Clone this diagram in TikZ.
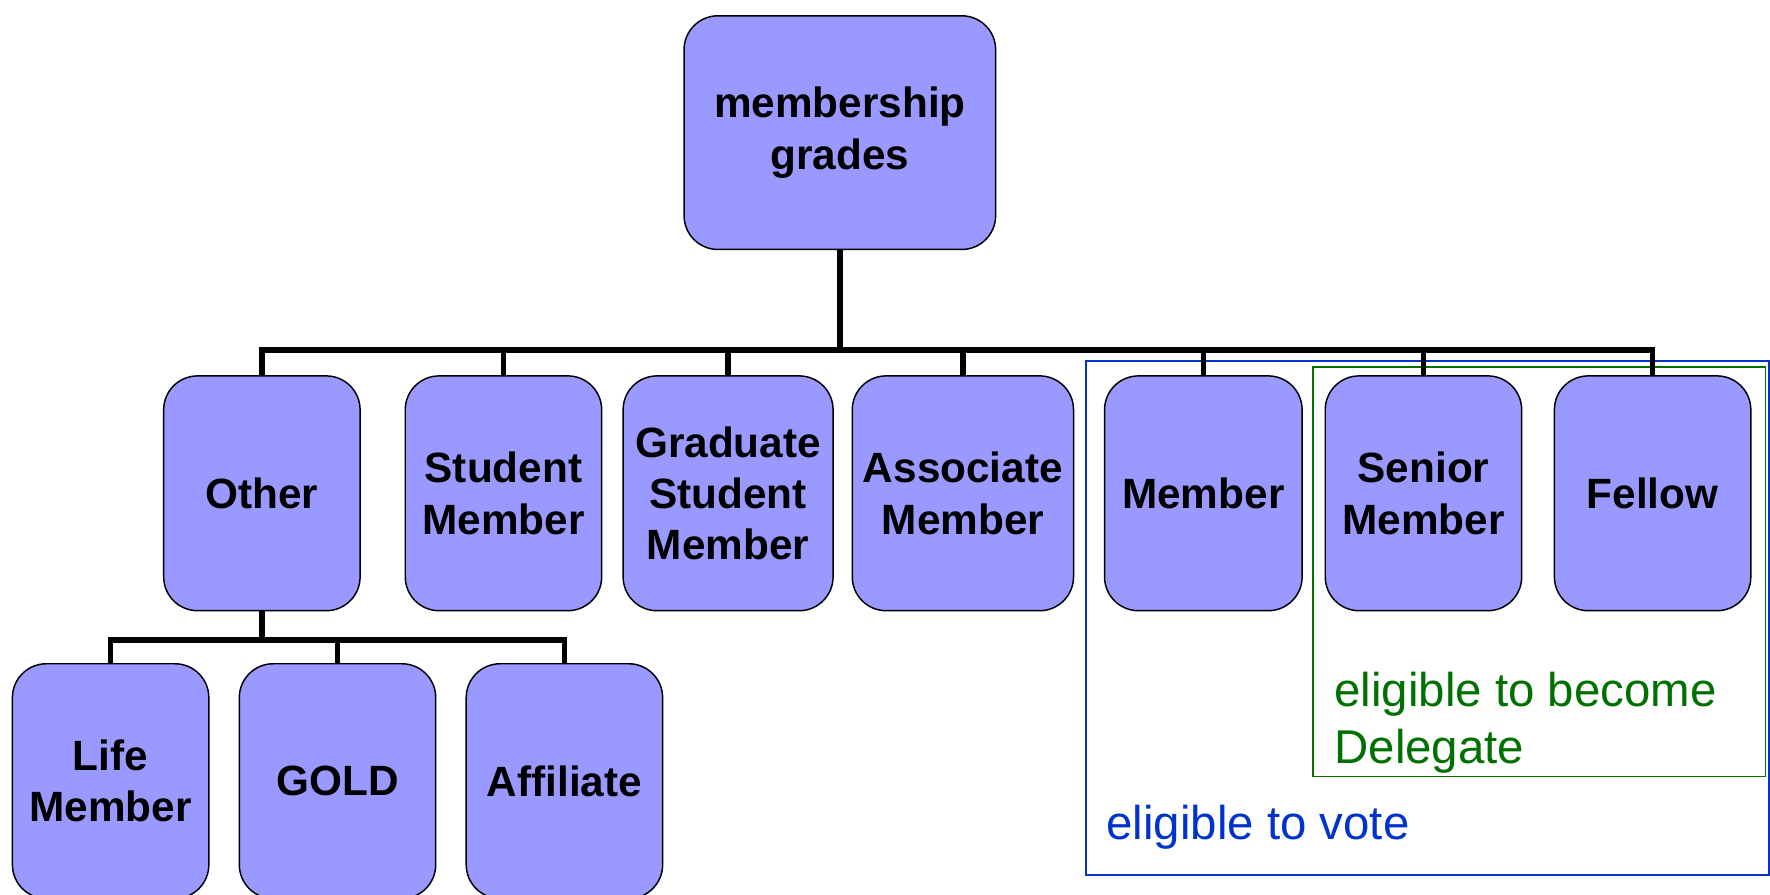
\documentclass[tikz,border=0pt]{standalone}
\usepackage{fontspec}
\setmainfont{Liberation Sans}
\usetikzlibrary{backgrounds}
\definecolor{boxfill}{RGB}{153,153,255}
\definecolor{voteblue}{RGB}{0,51,204}
\definecolor{delgreen}{RGB}{0,112,0}
\tikzset{
  grade/.style={draw=black, line width=1.3pt, fill=boxfill, rounded corners=30pt,
    align=center, inner sep=0pt, minimum height=208pt,
    font=\bfseries\fontsize{37.5}{45.5}\selectfont},
  conn/.style={draw=black, line width=5pt},
  note/.style={anchor=base west, align=left, inner sep=0pt,
    font=\fontsize{42}{50}\selectfont}
}
\begin{document}
\begin{tikzpicture}[x=1pt,y=-1pt]
\useasboundingbox (0,0) rectangle (1568,792);
\clip (0,0) rectangle (1568,792);
% nodes
\node[grade, minimum width=276pt, minimum height=207pt] (root) at (744,117.5) {membership\\grades};
\node[grade, minimum width=174pt] (other)   at (232,437) {Other};
\node[grade, minimum width=174pt] (student) at (446,437) {Student\\Member};
\node[grade, minimum width=186pt] (grad)    at (645,437) {Graduate\\Student\\Member};
\node[grade, minimum width=196pt] (assoc)   at (853,437) {Associate\\Member};
\node[grade, minimum width=175pt] (member)  at (1066,437) {Member};
\node[grade, minimum width=174pt] (senior)  at (1261,437) {Senior\\Member};
\node[grade, minimum width=174pt] (fellow)  at (1464,437) {Fellow};
\node[grade, minimum width=174pt] (life)    at (98,692) {Life\\Member};
\node[grade, minimum width=174pt] (gold)    at (299,692) {GOLD};
\node[grade, minimum width=174pt] (affil)   at (500,692) {Affiliate};
% labels
\node[note, text=delgreen] (deltext) at (1182,676) {eligible to become\\Delegate};
\node[note, text=voteblue] (votetext) at (980,744) {eligible to vote};
\coordinate (bus) at (0,310);
\coordinate (bus2) at (0,567);
\begin{pgfonlayer}{background}
\draw[voteblue, line width=1.5pt] (962,320) rectangle (1567,775);
\draw[delgreen, line width=1.5pt] (1163,325) rectangle (1564,688);
\draw[conn] (root.south) -- (root.south |- bus);
\draw[conn] (other.north) -- (other.north |- bus) -- (fellow.north |- bus) -- (fellow.north);
\foreach \n in {student,grad,assoc,member,senior}
  \draw[conn] (\n.north) -- (\n.north |- bus);
\draw[conn] (other.south) -- (other.south |- bus2);
\draw[conn] (life.north) -- (life.north |- bus2) -- (affil.north |- bus2) -- (affil.north);
\draw[conn] (gold.north) -- (gold.north |- bus2);
\end{pgfonlayer}
\end{tikzpicture}
\end{document}
